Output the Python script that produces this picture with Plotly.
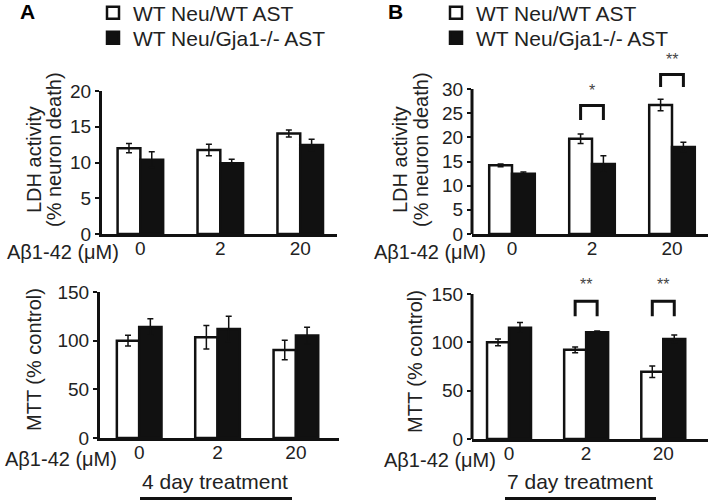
import plotly.graph_objects as go

# ---------------- data ----------------
doses = ["0", "2", "20"]
x_pos = [0, 1, 2]
series_names = ["WT Neu/WT AST", "WT Neu/Gja1-/- AST"]

ldh4_wt = [12.0, 11.75, 14.05]
ldh4_wt_err = [0.65, 0.8, 0.5]
ldh4_ko = [10.4, 9.9, 12.45]
ldh4_ko_err = [1.1, 0.55, 0.8]

ldh7_wt = [14.2, 19.7, 26.7]
ldh7_wt_err = [0.3, 1.0, 1.2]
ldh7_ko = [12.45, 14.5, 18.0]
ldh7_ko_err = [0.4, 1.7, 1.0]

mtt4_wt = [100, 103.5, 90.5]
mtt4_wt_err = [5.5, 12, 10]
mtt4_ko = [114, 112, 105.3]
mtt4_ko_err = [8.5, 13, 8.6]

mtt7_wt = [100, 92.3, 69.5]
mtt7_wt_err = [3.5, 3, 6]
mtt7_ko = [115, 110.5, 103.5]
mtt7_ko_err = [5.5, 1.2, 4]

# significance brackets (group index, leg bottom, bracket top, star position, label)
ldh7_sig_groups = [1, 2]
ldh7_sig_low = [23.6, 30.4]
ldh7_sig_high = [26.6, 33.0]
ldh7_sig_star = [29.6, 36.1]
ldh7_sig_text = ["*", "**"]

mtt7_sig_groups = [1, 2]
mtt7_sig_low = [127, 127]
mtt7_sig_high = [142.5, 142.5]
mtt7_sig_star = [160, 160]
mtt7_sig_text = ["**", "**"]

ldh_ticks = [0, 5, 10, 15, 20]
ldh7_ticks = [0, 5, 10, 15, 20, 25, 30]
mtt_ticks = [0, 50, 100, 150]

# ---------------- style ----------------
W, H = 709, 502
FONT = "Liberation Sans, Arial, sans-serif"
TXT = "#222222"
INK = "#111111"
BARGAP = 0.43
BAR_W = (1 - BARGAP) / 2
LW = 3


def px_x(p):
    return p / W


def px_y(p):
    return 1 - p / H


fig = go.Figure()

panels = [
    # (xaxis id, yaxis id, wt, wt_err, ko, ko_err, legends)
    ("x", "y", ldh4_wt, ldh4_wt_err, ldh4_ko, ldh4_ko_err, ("legend", "legend2")),
    ("x2", "y2", ldh7_wt, ldh7_wt_err, ldh7_ko, ldh7_ko_err, ("legend3", "legend4")),
    ("x3", "y3", mtt4_wt, mtt4_wt_err, mtt4_ko, mtt4_ko_err, None),
    ("x4", "y4", mtt7_wt, mtt7_wt_err, mtt7_ko, mtt7_ko_err, None),
]

for xa, ya, wt, wte, ko, koe, legs in panels:
    for i, (name, vals, errs, fill) in enumerate([
        (series_names[0], wt, wte, "white"),
        (series_names[1], ko, koe, INK),
    ]):
        fig.add_trace(go.Bar(
            x=x_pos, y=vals, name=name,
            xaxis=xa, yaxis=ya,
            marker=dict(color=fill, line=dict(color=INK, width=2.5)),
            error_y=dict(type="data", array=errs, visible=True,
                         color=INK, thickness=1.5, width=3),
            showlegend=legs is not None,
            legend=legs[i] if legs else "legend",
        ))

# significance brackets as line traces
for xa, ya, groups, lows, highs in [
    ("x2", "y2", ldh7_sig_groups, ldh7_sig_low, ldh7_sig_high),
    ("x4", "y4", mtt7_sig_groups, mtt7_sig_low, mtt7_sig_high),
]:
    for g, lo, hi in zip(groups, lows, highs):
        left = x_pos[g] - BAR_W / 2
        right = x_pos[g] + BAR_W / 2
        fig.add_trace(go.Scatter(
            x=[left, left, right, right], y=[lo, hi, hi, lo],
            xaxis=xa, yaxis=ya, mode="lines",
            line=dict(color=INK, width=3),
            showlegend=False, hoverinfo="skip",
        ))

annotations = []
for xa, ya, groups, ys, texts in [
    ("x2", "y2", ldh7_sig_groups, ldh7_sig_star, ldh7_sig_text),
    ("x4", "y4", mtt7_sig_groups, mtt7_sig_star, mtt7_sig_text),
]:
    for g, yv, t in zip(groups, ys, texts):
        annotations.append(dict(x=x_pos[g], y=yv, xref=xa, yref=ya, text=t,
                                showarrow=False,
                                font=dict(family=FONT, size=16, color="#444444")))

xcommon = dict(tickmode="array", tickvals=x_pos, ticktext=doses, ticks="", ticklen=0,
               ticklabelstandoff=-5,
               showline=True, linecolor=INK, linewidth=LW, layer="above traces",
               showgrid=False, zeroline=False, fixedrange=True,
               tickfont=dict(family=FONT, size=19, color=TXT))
ycommon = dict(ticks="outside", ticklen=4, tickwidth=2, tickcolor=INK,
               showgrid=False, zeroline=False, layer="above traces",
               tickfont=dict(family=FONT, size=19, color=TXT))

legfont = dict(family=FONT, size=21, color=TXT)


def leg(x, y):
    return dict(x=px_x(x), y=px_y(y), xanchor="left", yanchor="middle",
                bgcolor="rgba(0,0,0,0)", font=legfont, itemclick=False,
                borderwidth=0)


layout = dict(
    width=W, height=H, margin=dict(l=0, r=0, t=0, b=0, autoexpand=False),
    paper_bgcolor="white", plot_bgcolor="white",
    barmode="group", bargap=BARGAP, bargroupgap=0,
    font=dict(family=FONT, color=TXT),
    xaxis=dict(domain=[px_x(102), px_x(337)], range=[-0.48, 2.46], anchor="y", **xcommon),
    yaxis=dict(domain=[px_y(234), px_y(91)], range=[0, 20], anchor="x",
               tickvals=ldh_ticks, showline=True, linecolor=INK, linewidth=LW, **ycommon),
    xaxis2=dict(domain=[px_x(472), px_x(708)], range=[-0.5, 2.45], anchor="y2", **xcommon),
    yaxis2=dict(domain=[px_y(234), px_y(234 - 38 * 145 / 30)], range=[0, 38], anchor="x2",
                tickvals=ldh7_ticks, showline=False, **ycommon),
    xaxis3=dict(domain=[px_x(100), px_x(339)], range=[-0.5, 2.55], anchor="y3", **xcommon),
    yaxis3=dict(domain=[px_y(438), px_y(292)], range=[0, 150], anchor="x3",
                tickvals=mtt_ticks, showline=True, linecolor=INK, linewidth=LW, **ycommon),
    xaxis4=dict(domain=[px_x(472), px_x(708)], range=[-0.48, 2.58], anchor="y4", **xcommon),
    yaxis4=dict(domain=[px_y(439), px_y(439 - 170 * 145 / 150)], range=[0, 170], anchor="x4",
                tickvals=mtt_ticks, showline=False, **ycommon),
    legend=leg(93, 13),
    legend2=leg(93, 38),
    legend3=leg(436, 13),
    legend4=leg(436, 38),
)

# y-axis lines for panels whose range extends above the labelled scale
shapes = [
    dict(type="line", xref="x2 domain", yref="y2", x0=0, x1=0, y0=0, y1=ldh7_ticks[-1],
         line=dict(color=INK, width=LW)),
    dict(type="line", xref="x4 domain", yref="y4", x0=0, x1=0, y0=0, y1=mtt_ticks[-1],
         line=dict(color=INK, width=LW)),
    # underlines for treatment labels
    dict(type="line", xref="paper", yref="paper", x0=px_x(140), x1=px_x(292),
         y0=px_y(498.5), y1=px_y(498.5), line=dict(color=INK, width=3)),
    dict(type="line", xref="paper", yref="paper", x0=px_x(505), x1=px_x(656),
         y0=px_y(498.5), y1=px_y(498.5), line=dict(color=INK, width=3)),
]


def pa(text, x, y, size=20, angle=0, xanchor="center", bold=False):
    return dict(text=f"<b>{text}</b>" if bold else text, x=px_x(x), y=px_y(y),
                xref="paper", yref="paper", showarrow=False, textangle=angle,
                xanchor=xanchor, yanchor="middle",
                font=dict(family=FONT, size=size, color=TXT if not bold else "#000000"))


annotations += [
    pa("A", 27, 12, size=21, bold=True),
    pa("B", 395, 12, size=21, bold=True),
    pa("LDH activity", 34, 160, angle=-90),
    pa("(% neuron death)", 54, 150, angle=-90),
    pa("LDH activity", 400, 160, angle=-90),
    pa("(% neuron death)", 421, 150, angle=-90),
    pa("MTT (% control)", 34, 360, angle=-90),
    pa("MTT (% control)", 415, 362, angle=-90),
    pa("Aβ1-42 (μM)", 121, 252, xanchor="right"),
    pa("Aβ1-42 (μM)", 488, 252, xanchor="right"),
    pa("Aβ1-42 (μM)", 119, 459, xanchor="right"),
    pa("Aβ1-42 (μM)", 498, 460, xanchor="right"),
    pa("4 day treatment", 215, 481, size=21),
    pa("7 day treatment", 580, 481, size=21),
]

layout["annotations"] = annotations
layout["shapes"] = shapes
fig.update_layout(**layout)

fig.write_html("out.html", config={"displayModeBar": False, "staticPlot": True},
               post_script="document.body.style.margin='0px';")
